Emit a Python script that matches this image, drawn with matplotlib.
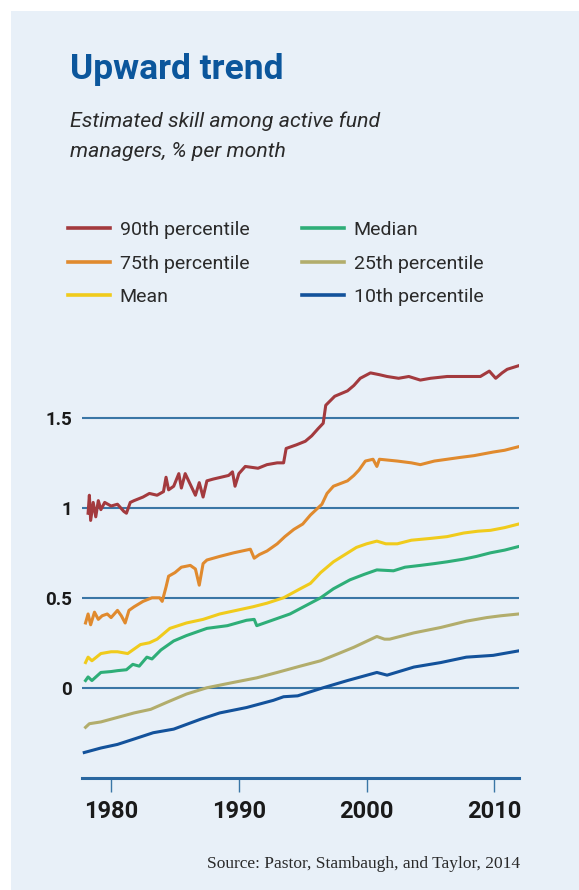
import matplotlib
matplotlib.use("Agg")
import matplotlib.pyplot as plt
import matplotlib.font_manager as fm
from matplotlib.patches import Rectangle

# estimated skill, % per month (year, value)
p90_years = [1978.2, 1978.3, 1978.4, 1978.6, 1978.8, 1979.0, 1979.2, 1979.5, 1980.0, 1980.5,
             1981.0, 1981.2, 1981.5, 1981.8, 1982.5, 1983.0, 1983.6, 1984.1, 1984.3, 1984.5,
             1984.9, 1985.3, 1985.5, 1985.8, 1986.2, 1986.6, 1986.9, 1987.2, 1987.5, 1988.0,
             1988.6, 1989.2, 1989.5, 1989.7, 1990.0, 1990.5, 1991.5, 1992.2, 1993.0, 1993.5,
             1993.7, 1994.5, 1995.2, 1995.7, 1996.2, 1996.6, 1996.8, 1997.5, 1998.5, 1999.0,
             1999.5, 2000.3, 2001.0, 2001.6, 2002.5, 2003.3, 2004.2, 2005.0, 2006.3, 2007.5,
             2008.9, 2009.6, 2010.1, 2010.6, 2011.0, 2011.9]
p90_vals = [0.97, 1.07, 0.93, 1.03, 0.95, 1.04, 0.99, 1.03, 1.01, 1.02,
            0.98, 0.97, 1.03, 1.04, 1.06, 1.08, 1.07, 1.09, 1.17, 1.10,
            1.12, 1.19, 1.11, 1.19, 1.13, 1.07, 1.14, 1.06, 1.15, 1.16,
            1.17, 1.18, 1.20, 1.12, 1.19, 1.23, 1.22, 1.24, 1.25, 1.25,
            1.33, 1.35, 1.37, 1.40, 1.44, 1.47, 1.57, 1.62, 1.65, 1.68,
            1.72, 1.75, 1.74, 1.73, 1.72, 1.73, 1.71, 1.72, 1.73, 1.73,
            1.73, 1.76, 1.72, 1.75, 1.77, 1.79]

p75_years = [1978.0, 1978.2, 1978.4, 1978.7, 1979.0, 1979.3, 1979.7, 1980.0, 1980.5, 1980.8,
             1981.1, 1981.4, 1981.8, 1982.5, 1983.2, 1983.8, 1984.0, 1984.3, 1984.5, 1985.0,
             1985.5, 1986.2, 1986.6, 1986.9, 1987.2, 1987.5, 1988.5, 1989.6, 1990.9, 1991.2,
             1991.6, 1992.2, 1993.0, 1993.6, 1994.3, 1995.0, 1995.6, 1996.5, 1996.9, 1997.4,
             1998.5, 1999.0, 1999.4, 1999.9, 2000.5, 2000.8, 2001.0, 2002.4, 2003.5, 2004.2,
             2005.3, 2006.3, 2007.3, 2008.4, 2009.9, 2010.8, 2011.9]
p75_vals = [0.36, 0.41, 0.35, 0.42, 0.38, 0.40, 0.41, 0.39, 0.43, 0.40,
            0.36, 0.43, 0.45, 0.48, 0.50, 0.50, 0.48, 0.56, 0.62, 0.64,
            0.67, 0.68, 0.66, 0.57, 0.69, 0.71, 0.73, 0.75, 0.77, 0.72,
            0.74, 0.76, 0.80, 0.84, 0.88, 0.91, 0.96, 1.02, 1.08, 1.12,
            1.15, 1.18, 1.21, 1.26, 1.27, 1.23, 1.27, 1.26, 1.25, 1.24,
            1.26, 1.27, 1.28, 1.29, 1.31, 1.32, 1.34]

mean_years = [1978.0, 1978.2, 1978.5, 1979.2, 1980.0, 1980.5, 1981.3, 1982.3, 1983.0, 1983.6,
              1984.6, 1985.9, 1987.2, 1988.5, 1989.8, 1991.1, 1992.2, 1993.5, 1994.8, 1995.6,
              1996.4, 1997.4, 1998.3, 1999.2, 2000.0, 2000.8, 2001.5, 2002.4, 2003.5, 2005.0,
              2006.3, 2007.6, 2008.7, 2009.7, 2010.8, 2011.9]
mean_vals = [0.14, 0.17, 0.15, 0.19, 0.20, 0.20, 0.19, 0.24, 0.25, 0.27,
             0.33, 0.36, 0.38, 0.41, 0.43, 0.45, 0.47, 0.50, 0.55, 0.58,
             0.64, 0.70, 0.74, 0.78, 0.80, 0.815, 0.80, 0.80, 0.82, 0.83,
             0.84, 0.86, 0.87, 0.875, 0.89, 0.91]

median_years = [1978.0, 1978.2, 1978.5, 1979.2, 1980.0, 1980.5, 1981.2, 1981.7, 1982.2, 1982.8,
                1983.2, 1983.9, 1984.9, 1985.9, 1987.5, 1989.1, 1990.6, 1991.2, 1991.4, 1992.0,
                1993.0, 1994.0, 1994.8, 1995.6, 1996.4, 1997.4, 1998.7, 1999.8, 2000.8, 2002.1,
                2003.0, 2004.2, 2005.3, 2006.3, 2007.6, 2008.6, 2009.7, 2010.8, 2011.9]
median_vals = [0.04, 0.06, 0.04, 0.085, 0.09, 0.095, 0.10, 0.13, 0.12, 0.17,
               0.16, 0.21, 0.26, 0.29, 0.33, 0.345, 0.375, 0.38, 0.345, 0.36,
               0.385, 0.41, 0.44, 0.47, 0.50, 0.55, 0.60, 0.63, 0.655, 0.65,
               0.67, 0.68, 0.69, 0.70, 0.715, 0.73, 0.75, 0.765, 0.785]

p25_years = [1978.0, 1978.3, 1979.2, 1980.5, 1981.8, 1983.1, 1984.4, 1985.9, 1987.5, 1989.6,
             1991.4, 1993.0, 1994.8, 1996.4, 1997.8, 1999.0, 2000.8, 2001.4, 2001.8, 2003.7,
             2005.8, 2007.8, 2009.4, 2010.5, 2011.9]
p25_vals = [-0.22, -0.20, -0.19, -0.165, -0.14, -0.12, -0.08, -0.035, 0.00, 0.03,
            0.055, 0.085, 0.12, 0.15, 0.19, 0.225, 0.285, 0.27, 0.27, 0.305,
            0.335, 0.37, 0.39, 0.40, 0.41]

p10_years = [1977.9, 1979.2, 1980.5, 1981.8, 1983.3, 1984.9, 1987.0, 1988.5, 1990.6, 1992.7,
             1993.5, 1994.6, 1996.6, 1998.5, 2000.8, 2001.6, 2003.7, 2005.8, 2007.8, 2009.9,
             2011.9]
p10_vals = [-0.36, -0.335, -0.315, -0.285, -0.25, -0.23, -0.175, -0.14, -0.11, -0.07,
            -0.05, -0.045, 0.00, 0.04, 0.085, 0.07, 0.115, 0.14, 0.17, 0.18,
            0.205]

series = [
    ("90th percentile", p90_years, p90_vals, "#a33a3e"),
    ("75th percentile", p75_years, p75_vals, "#e08a2e"),
    ("Mean", mean_years, mean_vals, "#f0cb1c"),
    ("Median", median_years, median_vals, "#2eae78"),
    ("25th percentile", p25_years, p25_vals, "#b2ad6c"),
    ("10th percentile", p10_years, p10_vals, "#13529b"),
]

x_ticks = [1980, 1990, 2000, 2010]
y_ticks = [0, 0.5, 1, 1.5]
y_labels = ["0", "0.5", "1", "1.5"]

# fonts: Roboto for the sans text (sizes tuned for it), Liberation Serif for the source
available = {f.name for f in fm.fontManager.ttflist}
def pick(*names):
    return next((n for n in names if n in available), "DejaVu Sans")
sans = pick("Roboto", "Liberation Sans")
serif = pick("Liberation Serif", "DejaVu Serif")

W, H = 579, 890
fig = plt.figure(figsize=(W / 100, H / 100), dpi=100, facecolor="white")
fig.patches.append(Rectangle((11 / W, 0), 1 - 11 / W, 1 - 11 / H, transform=fig.transFigure,
                             facecolor="#e8f0f8", edgecolor="none", zorder=-10))

ax = fig.add_axes([81.7 / W, 1 - 777.7 / H, (518.7 - 81.7) / W, (777.7 - 354.9) / H])
ax.set_facecolor("none")

for label, xs, ys, color in series:
    ax.plot(xs, ys, color=color, lw=2.2, label=label, solid_joinstyle="round", zorder=3)

ax.set_xlim(1977.7, 2011.9)
ax.set_ylim(-0.5, 1.85)
ax.set_xticks(x_ticks)
ax.set_xticklabels([str(t) for t in x_ticks], fontfamily=sans, fontweight="semibold",
                   fontsize=17, color="#1a1a1a")
ax.set_yticks(y_ticks)
ax.set_yticklabels(y_labels, fontfamily=sans, fontweight="semibold", fontsize=13.5, color="#1a1a1a")
ax.tick_params(axis="x", length=10, width=1.0, color="#3a76a6", pad=6)
ax.tick_params(axis="y", length=0, pad=7)
ax.grid(axis="y", color="#3a76a6", lw=1.5, zorder=1)
for side in ["top", "right", "left"]:
    ax.spines[side].set_visible(False)
ax.spines["bottom"].set_color("#2a67a0")
ax.spines["bottom"].set_linewidth(2.2)

leg = fig.legend(loc="upper left", bbox_to_anchor=(68 / W, 1 - 221 / H), ncol=2, frameon=False,
                 prop={"family": sans, "size": 14}, handlelength=2.16, handletextpad=0.5,
                 columnspacing=2.7, labelspacing=0.8, borderpad=0, borderaxespad=0)
for t in leg.get_texts():
    t.set_color("#2a2a2a")
for h in leg.get_lines():
    h.set_linewidth(2.6)

fig.text(70 / W, 1 - 79 / H, "Upward trend", fontfamily=sans, fontweight="bold",
         fontsize=25.5, color="#0b569c", va="baseline")
fig.text(70 / W, 1 - 126.7 / H, "Estimated skill among active fund", fontfamily=sans,
         style="italic", fontsize=15.3, color="#2a2a2a", va="baseline")
fig.text(70 / W, 1 - 156.7 / H, "managers, % per month", fontfamily=sans,
         style="italic", fontsize=15.3, color="#2a2a2a", va="baseline")
fig.text(520 / W, 1 - 868 / H, "Source: Pastor, Stambaugh, and Taylor, 2014", fontfamily=serif,
         fontsize=12.5, color="#2a2a2a", ha="right", va="baseline")

fig.savefig("out.png", dpi=100, facecolor="white")
